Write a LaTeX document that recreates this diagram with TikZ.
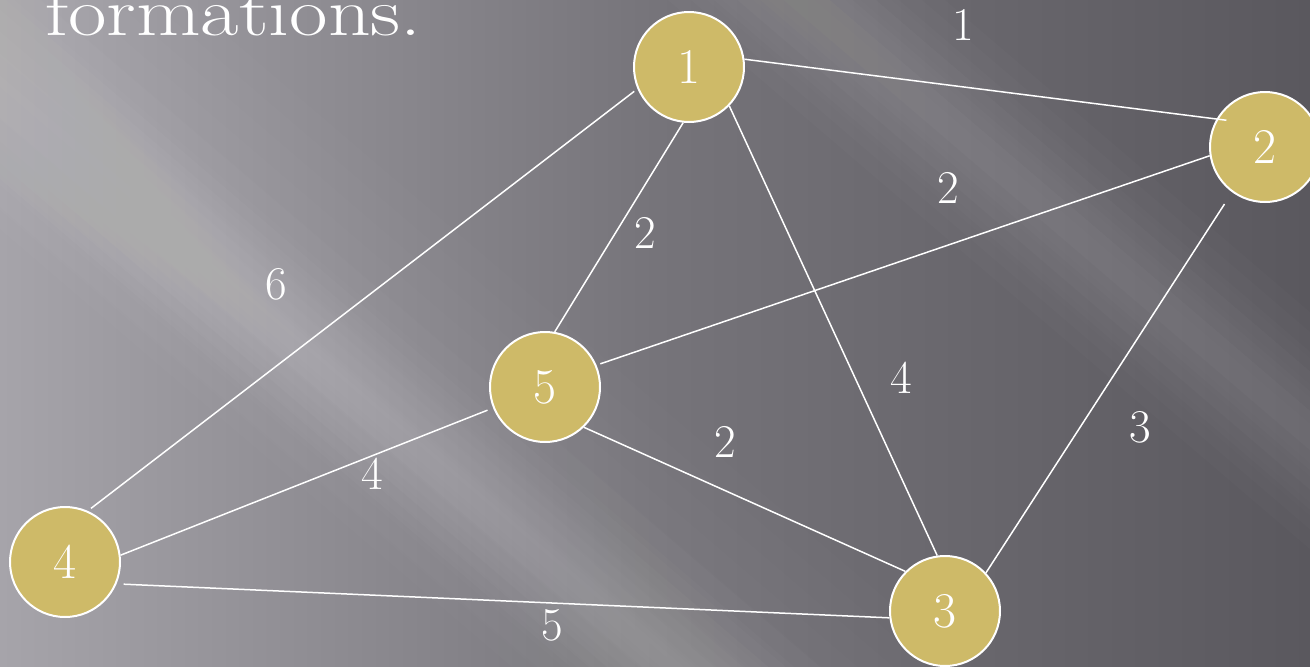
\documentclass[tikz,border=0pt]{standalone}
\usetikzlibrary{calc}
\definecolor{bgA}{RGB}{166,164,170}
\definecolor{bgB}{RGB}{118,116,122}
\definecolor{bgC}{RGB}{90,88,94}
\definecolor{gold}{RGB}{206,186,104}
\tikzset{
  vert/.style={circle, draw=white, line width=2pt, fill=gold, minimum size=110pt, inner sep=0pt, text=white, font=\fontsize{50}{50}\selectfont},
  edge/.style={draw=white, line width=1.5pt},
  wt/.style={text=white, font=\fontsize{47}{47}\selectfont, inner sep=0pt}
}
% soft light band: centre x, centre y, half width, opacity per layer, dx, dy (unit direction)
\newcommand{\softband}[6]{%
  \foreach \k in {1,...,6}{%
    \fill[white, opacity=#4]
      ($(#1,#2)+(-1400*#5,-1400*#6)+(-\k/6*#3*#6, \k/6*#3*#5)$) --
      ($(#1,#2)+(1400*#5,1400*#6)+(-\k/6*#3*#6, \k/6*#3*#5)$) --
      ($(#1,#2)+(1400*#5,1400*#6)+(\k/6*#3*#6, -\k/6*#3*#5)$) --
      ($(#1,#2)+(-1400*#5,-1400*#6)+(\k/6*#3*#6, -\k/6*#3*#5)$) -- cycle;
  }%
}
\begin{document}
\begin{tikzpicture}[x=1pt,y=-1pt]
\useasboundingbox (0,0) rectangle (1310,667);
\clip (0,0) rectangle (1310,667);
% background
\shade[left color=bgA, right color=bgC, middle color=bgB] (0,0) rectangle (1310,667);
\softband{40}{60}{140}{0.012}{0.76}{0.65}
\softband{120}{200}{100}{0.016}{0.76}{0.65}
\softband{380}{420}{60}{0.013}{0.76}{0.65}
\softband{900}{80}{90}{0.016}{0.76}{0.65}
\softband{600}{600}{70}{0.012}{0.76}{0.65}
\softband{1150}{300}{60}{0.009}{0.76}{0.65}
% title fragment
\node[anchor=base west, xscale=1.23, text=white, font=\fontsize{68}{68}\selectfont, inner sep=0pt] (title) at (45,35) {formations.};
% vertices
\node[vert] (n1) at (689,67) {1};
\node[vert] (n2) at (1265,147) {2};
\node[vert] (n3) at (945,611) {3};
\node[vert] (n4) at (65,562) {4};
\node[vert] (n5) at (545,387) {5};
% edges
\draw[edge, shorten >=-10pt] (n1.8) -- (n2.150);
\draw[edge, shorten <=4pt, shorten >=4pt] (n1.203) -- (n4.66);
\draw[edge] (n1.264) -- (n5.80);
\draw[edge] (n1.316) -- (n3.98);
\draw[edge, shorten <=4pt] (n5.23) -- (n2.189);
\draw[edge, shorten <=14pt] (n2.234) -- (n3.43);
\draw[edge] (n5.314) -- (n3.135);
\draw[edge, shorten <=6pt] (n5.202) -- (n4.7);
\draw[edge, shorten <=7pt] (n4.337) -- (n3.187);
% weights
\node[wt] (w12) at (963,25) {1};
\node[wt] (w52) at (948,188) {2};
\node[wt] (w15) at (645,233) {2};
\node[wt] (w14) at (276,284) {6};
\node[wt] (w13) at (901,378) {4};
\node[wt] (w23) at (1140,427) {3};
\node[wt] (w53) at (725,442) {2};
\node[wt] (w54) at (372,474) {4};
\node[wt] (w43) at (552,625) {5};
\end{tikzpicture}
\end{document}
